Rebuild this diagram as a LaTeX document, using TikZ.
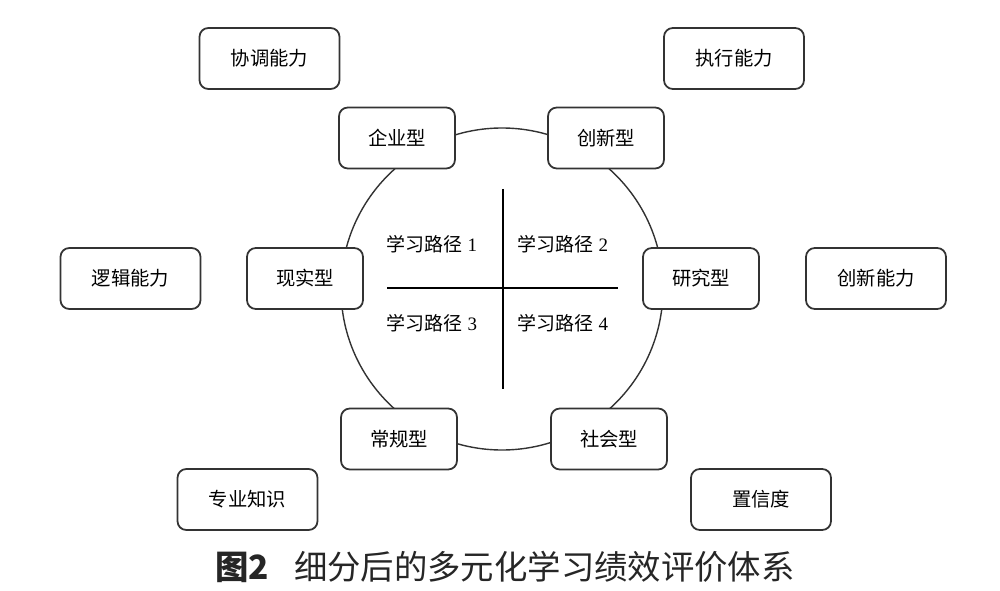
\documentclass[tikz,border=0pt]{standalone}
\usepackage{fontspec}
\setmainfont{Liberation Serif}
\newfontfamily\cjk{Noto Sans CJK SC}
\usetikzlibrary{positioning}
\tikzset{ability/.style={draw=black!80,line width=1pt,rounded corners=5pt,fill=white,
    minimum width=2.8cm,minimum height=1.22cm,font=\cjk\fontsize{11}{13}\selectfont}}
\tikzset{kind/.style={ability,minimum width=2.32cm}}
\tikzset{route/.style={font=\fontsize{10.8}{12}\selectfont}}

\begin{document}
\begin{tikzpicture}[x=0.02cm,y=-0.02cm]
  \useasboundingbox (0,0) rectangle (1000,591);
  \coordinate (O) at (502,289);
  \draw[black!80,line width=0.8pt] (O) circle (161);

  \coordinate (L) at (387,288);
  \coordinate (R) at (618,288);
  \coordinate (T) at (503,189);
  \coordinate (B) at (503,389);
  \draw[line width=0.7pt] (L) -- (R);
  \draw[line width=0.7pt] (T) -- (B);

  \node[route] (P1) at (432,244) {{\cjk 学习路径}~1};
  \node[route] (P2) at (563,244) {{\cjk 学习路径}~2};
  \node[route] (P3) at (432,323) {{\cjk 学习路径}~3};
  \node[route] (P4) at (563,323) {{\cjk 学习路径}~4};

  \node[kind] (qiye) at (397,138) {企业型};
  \node[kind] (chuangxin) at (606,138) {创新型};
  \node[kind] (xianshi) at (305,278.5) {现实型};
  \node[kind] (yanjiu) at (701,278.5) {研究型};
  \node[kind] (changgui) at (399,439) {常规型};
  \node[kind] (shehui) at (609,439) {社会型};

  \node[ability] (xietiao) at (269.5,58.5) {协调能力};
  \node[ability] (zhixing) at (734,58.5) {执行能力};
  \node[ability] (luoji) at (130.5,278.5) {逻辑能力};
  \node[ability] (cxnl) at (876,278.5) {创新能力};
  \node[ability] (zhuanye) at (247.5,499.5) {专业知识};
  \node[ability] (zhixin) at (761,499.5) {置信度};

  \node[font=\cjk\fontsize{19}{21}\selectfont,text=black!85] (caption) at (505,567)
    {{\bfseries 图2}\hspace{0.75em}细分后的多元化学习绩效评价体系};
\end{tikzpicture}
\end{document}
